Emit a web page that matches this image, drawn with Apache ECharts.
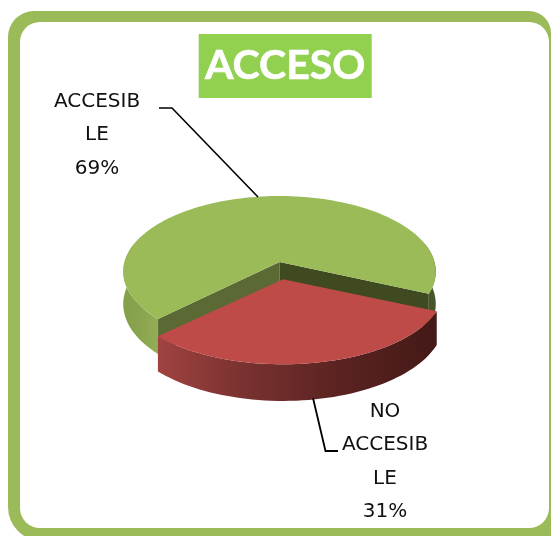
<!DOCTYPE html>
<html><head><meta charset="utf-8">
<style>html,body{margin:0;padding:0;background:#fff;overflow:hidden}#c{width:551px;height:536px}</style>
<script src="https://cdn.jsdelivr.net/npm/echarts@6/dist/echarts.min.js"></script>
</head><body><div id="c"></div>
<script>
const titleText = 'ACCESO';
const categories = ['ACCESIB\nLE', 'NO\nACCESIB\nLE'];
const values = [69, 31];
const sliceColors = ['#9BBB59', '#BE4B48'];
const startAngle = 24;
const explodeOffset = [3.5, 17.3];
const explodeScale = 1.03;

const geom = {cx: 279.5, cy: 262, rx: 155, ry: 74.3, k: 0.126, depth: 32};
function project(angleDeg, r, z, off, sx) {
  const a = angleDeg * Math.PI / 180;
  const u = r * Math.cos(a), v = r * Math.sin(a);
  const w = 1 - geom.k * v;
  return [geom.cx + off[0] + (sx || 1) * geom.rx * u / w, geom.cy + off[1] + (geom.ry * v + geom.depth * z) / w];
}
function arc(a0, a1, z, off, sx) {
  const pts = [], n = Math.max(2, Math.ceil(Math.abs(a1 - a0) / 2));
  for (let i = 0; i <= n; i++) pts.push(project(a0 + (a1 - a0) * i / n, 1, z, off, sx));
  return pts;
}
function wall(a0, a1, off, fill, sx) {
  return {type: 'polygon', shape: {points: arc(a0, a1, 0, off, sx).concat(arc(a1, a0, 1, off, sx))}, style: {fill: fill}};
}
function cut(a, off, fill) {
  const t = project(a, 1, 0, off), c = project(0, 0, 0, off);
  const tb = project(a, 1, 1, off), cb = project(0, 0, 1, off);
  return {type: 'polygon', shape: {points: [c, t, tb, cb]}, style: {fill: fill}};
}
function hgrad(stops) {
  return {type: 'linear', x: 0, y: 0, x2: 1, y2: 0,
    colorStops: stops.map(s => ({offset: s[0], color: s[1]}))};
}
const total = values.reduce((s, v) => s + v, 0);
const redSweep = values[1] / total * 360;
const redEnd = startAngle + redSweep;

function renderItem(params, api) {
  const i = params.dataIndex;
  const color = sliceColors[i];
  if (i === 0) {
    const off = [0, 0];
    const a0 = redEnd, a1 = startAngle + 360;
    return {type: 'group', children: [
      wall(a0, 195, off, hgrad([[0, '#84a04a'], [0.5, '#8aa44e'], [1, '#93ae57']])),
      wall(345, a1, off, '#47552a'),
      cut(a0, off, '#5B6A35'),
      cut(startAngle, off, '#3F4A20'),
      {type: 'polygon', shape: {points: [project(0, 0, 0, off)].concat(arc(a0, a1, 0, off))}, style: {fill: color}}
    ]};
  }
  const off = explodeOffset;
  return {type: 'group', children: [
    wall(startAngle, redEnd, off, hgrad([[0, '#a04340'], [0.3, '#7a3230'], [0.65, '#5a2321'], [1, '#441917']]), explodeScale),
    {type: 'polygon', shape: {points: [project(0, 0, 0, off)].concat(arc(startAngle, redEnd, 0, off, explodeScale))}, style: {fill: color}}
  ]};
}

const labelFont = {fontFamily: 'DejaVu Sans', fontSize: 20, fill: '#111', textAlign: 'center', textVerticalAlign: 'top', lineHeight: 33.5};
const chart = echarts.init(document.getElementById('c'), null, {renderer: 'canvas'});
chart.setOption({
  animation: false,
  backgroundColor: '#ffffff',
  title: {
    text: titleText, left: 199, top: 34, padding: [7, 6, 7, 6],
    backgroundColor: '#92D050',
    textStyle: {color: '#fff', fontFamily: 'Lato', fontWeight: 'bold', fontSize: 41, lineHeight: 50, textBorderColor: '#fff', textBorderWidth: 0.6}
  },
  graphic: [
    {type: 'rect', z: -2, shape: {x: 8, y: 11, width: 543, height: 530, r: [26, 22, 0, 34]}, style: {fill: '#9BBB59'}},
    {type: 'rect', z: -1, shape: {x: 20, y: 22, width: 529, height: 506, r: 20}, style: {fill: '#fff'}},
    {type: 'polyline', z: 5, shape: {points: [[159, 108], [172, 108], [258, 197]]}, style: {stroke: '#000', lineWidth: 1.6, fill: null}},
    {type: 'polyline', z: 5, shape: {points: [[313, 398], [325.5, 451], [338, 451]]}, style: {stroke: '#000', lineWidth: 1.8, fill: null}},
    {type: 'text', z: 6, x: 97, y: 85, style: Object.assign({text: categories[0] + '\n' + values[0] + '%'}, labelFont)},
    {type: 'text', z: 6, x: 385, y: 395, style: Object.assign({text: categories[1] + '\n' + values[1] + '%'}, labelFont)}
  ],
  series: [{
    type: 'custom', coordinateSystem: 'none', renderItem: renderItem, z: 2, silent: true,
    data: categories.map((c, i) => ({name: c, value: values[i]}))
  }]
});
</script></body></html>
